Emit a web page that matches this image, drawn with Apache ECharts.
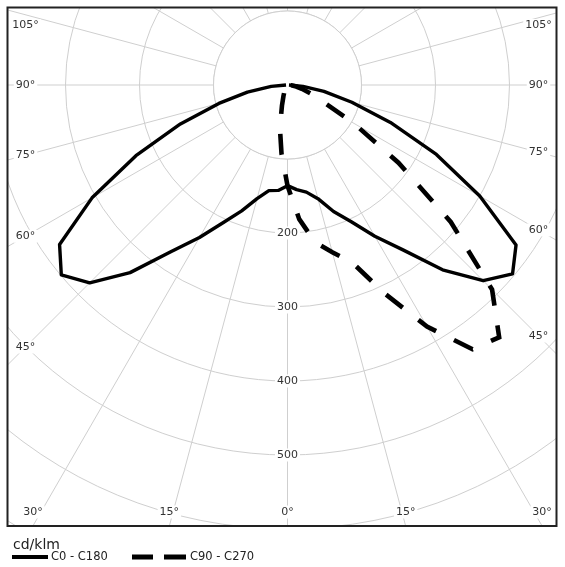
<!DOCTYPE html>
<html>
<head>
<meta charset="utf-8">
<script src="https://cdn.jsdelivr.net/npm/echarts@6/dist/echarts.min.js"></script>
<style>
html,body{margin:0;padding:0;background:#fff;}
#chart{width:565px;height:567px;}
</style>
</head>
<body>
<div id="chart"></div>
<script>
// ---- data (cd/klm) ----
const gammaAngles = [0,5,10,15,20,25,30,35,40,45,50,55,60,65,70,75,80,85,90];
const c0Values   = [136,142,147,159,182,204,236,272,326,374,397,377,300,222,148,90,50,21,2];
const c180Values = [136,143,145,159,181,205,238,275,331,378,399,376,305,226,154,96,55,22,2];
const c90Values  = [136,182,216,234,255,311,377,436,445,391,288,183,103,52,33,20,12,5,0];
const c270Values = [136,93,59,29,16,10,7,5,4,3,2,2,1,1,1,0,0,0,0];
const radialTickLabels = [200,300,400,500];
const angleTickLabels = [0,15,30,45,60,75,90,105];
const seriesNames = ['C0 - C180','C90 - C270'];
const unitLabel = 'cd/klm';

// ---- layout ----
const W = 565, H = 567;
const frame = {x:7.5, y:7.5, w:549, h:518.5};
const cx = 287.5, cy = 85, pxPerUnit = 0.74;
const rMax = 800, rHole = 100;
const FONT = '"DejaVu Sans", Verdana, sans-serif';
const GRID = '#cfcfcf';

// right half uses angle = gamma, left half uses angle = 360 - gamma
function planeData(right, left){
  const d = [];
  for (let i = gammaAngles.length - 1; i >= 0; i--) d.push([left[i], 360 - gammaAngles[i]]);
  for (let i = 1; i < gammaAngles.length; i++) d.push([right[i], gammaAngles[i]]);
  return d;
}

const chart = echarts.init(document.getElementById('chart'), null, {renderer:'canvas'});

const fb = frame.y + frame.h, fr = frame.x + frame.w;
const graphics = [
  // empty hub inside the first ring (above grid, below curves)
  {type:'circle', shape:{cx:cx, cy:cy, r:rHole * pxPerUnit}, style:{fill:'#fff', stroke:GRID, lineWidth:1}, z:1, silent:true},
  // masks outside the frame
  {type:'rect', shape:{x:0, y:0, width:W, height:frame.y}, style:{fill:'#fff'}, z:100, silent:true},
  {type:'rect', shape:{x:0, y:0, width:frame.x, height:H}, style:{fill:'#fff'}, z:100, silent:true},
  {type:'rect', shape:{x:fr, y:0, width:W-fr, height:H}, style:{fill:'#fff'}, z:100, silent:true},
  {type:'rect', shape:{x:0, y:fb, width:W, height:H-fb}, style:{fill:'#fff'}, z:100, silent:true},
  {type:'rect', shape:{x:frame.x, y:frame.y, width:frame.w, height:frame.h}, style:{fill:'none', stroke:'#222', lineWidth:2}, z:101, silent:true}
];

function angleLabel(x, y, a){
  return {type:'text', x:x, y:y, z:102, silent:true,
    style:{text:a + '°', font:'11px ' + FONT, fill:'#333',
      align:'center', verticalAlign:'middle', textAlign:'center', textVerticalAlign:'middle',
      backgroundColor:'#fff', padding:[1,2]}};
}
const insetSide = 18, insetBottom = 14;
angleTickLabels.forEach(a => {
  const rad = a * Math.PI / 180;
  if (a >= 45) {
    const xl = frame.x + insetSide, xr = fr - insetSide;
    let yl = cy + (cx - xl) / Math.tan(rad);
    let yr = cy + (xr - cx) / Math.tan(rad);
    yl = Math.max(yl, frame.y + insetSide);
    yr = Math.max(yr, frame.y + insetSide);
    graphics.push(angleLabel(xl, yl, a));
    graphics.push(angleLabel(xr, yr, a));
  } else {
    const yb = fb - insetBottom;
    const dx = (fb - cy) * Math.tan(rad);
    graphics.push(angleLabel(cx - dx, yb, a));
    if (a > 0) graphics.push(angleLabel(cx + dx, yb, a));
  }
});

const legendText = {fontFamily:FONT, fontSize:11.5, color:'#222'};
const option = {
  backgroundColor:'#fff',
  animation:false,
  title:{text:unitLabel, left:13, top:538, padding:0, z:110,
    textStyle:{fontFamily:FONT, fontSize:14, fontWeight:'normal', color:'#222'}},
  legend:[
    {data:[{name:seriesNames[0], icon:'path://M0,0H36V4H0Z'}], left:12, top:551, padding:0,
      itemWidth:36, itemHeight:4, z:110, selectedMode:false,
      textStyle:Object.assign({padding:[0,0,0,-2]}, legendText)},
    {data:[{name:seriesNames[1], icon:'path://M0,0H21V5H0Z M32,0H54V5H32Z'}], left:132, top:551, padding:0,
      itemWidth:54, itemHeight:5, z:110, selectedMode:false,
      textStyle:Object.assign({padding:[0,0,0,-1]}, legendText)}
  ],
  polar:{center:[cx, cy], radius:[0, rMax * pxPerUnit]},
  angleAxis:{type:'value', min:0, max:360, interval:15, startAngle:270, clockwise:false,
    axisLine:{show:false}, axisTick:{show:false}, axisLabel:{show:false},
    splitLine:{show:true, lineStyle:{color:GRID, width:1}}},
  radiusAxis:{type:'value', min:0, max:rMax, interval:100,
    axisLine:{show:false}, axisTick:{show:false},
    axisLabel:{show:true, customValues:radialTickLabels,
      formatter: v => radialTickLabels.indexOf(v) >= 0 ? String(v) : '',
      margin:0, align:'center', verticalAlign:'middle',
      fontFamily:FONT, fontSize:11, color:'#333', backgroundColor:'#fff', padding:[1,2]},
    splitLine:{show:true, lineStyle:{color:GRID, width:1}}},
  series:[
    {type:'line', name:seriesNames[0], coordinateSystem:'polar', data:planeData(c0Values, c180Values),
      symbol:'none', showSymbol:false, clip:false, silent:true, z:3,
      itemStyle:{color:'#000'},
      lineStyle:{color:'#000', width:3.4, join:'round'}},
    {type:'line', name:seriesNames[1], coordinateSystem:'polar', data:planeData(c90Values, c270Values),
      symbol:'none', showSymbol:false, clip:false, silent:true, z:3,
      itemStyle:{color:'#000'},
      lineStyle:{color:'#000', width:4.6, type:[21,20], dashOffset:32, cap:'butt', join:'miter'}}
  ],
  graphic:{elements:graphics}
};
chart.setOption(option);
</script>
</body>
</html>
